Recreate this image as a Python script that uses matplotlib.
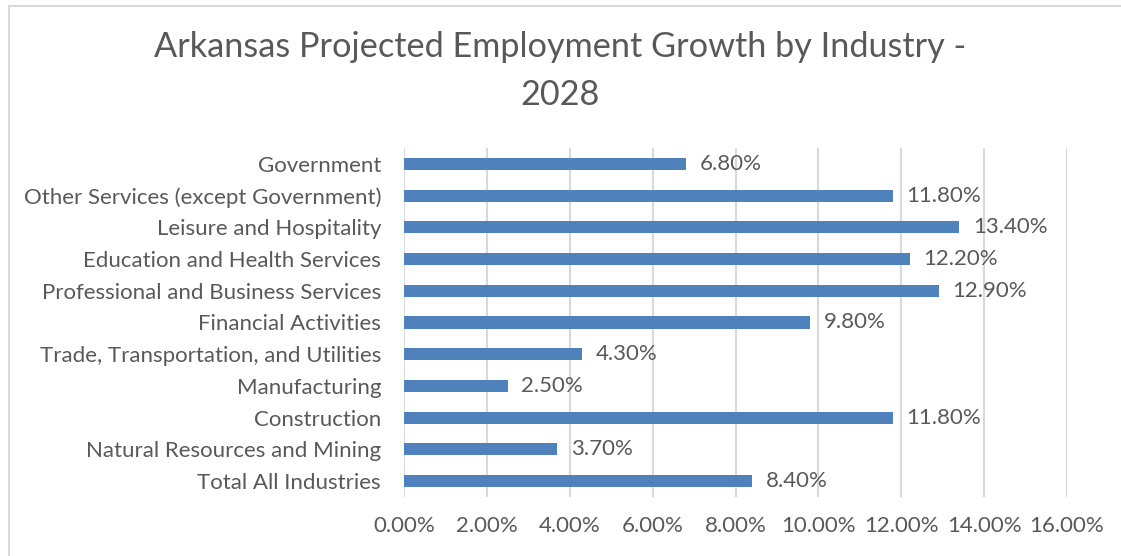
import matplotlib
matplotlib.use('Agg')
import matplotlib.pyplot as plt
from matplotlib.lines import Line2D
from matplotlib.ticker import FuncFormatter, MultipleLocator

# data (bottom to top, as drawn)
industries = ['Total All Industries', 'Natural Resources and Mining', 'Construction',
              'Manufacturing', 'Trade, Transportation, and Utilities',
              'Financial Activities', 'Professional and Business Services',
              'Education and Health Services', 'Leisure and Hospitality',
              'Other Services (except Government)', 'Government']
growth = [8.4, 3.7, 11.8, 2.5, 4.3, 9.8, 12.9, 12.2, 13.4, 11.8, 6.8]

plt.rcParams['font.family'] = ['Lato', 'DejaVu Sans']
text_col = '#595959'
bar_col = '#4F81BD'
fs = 16

W, H = 1121, 556
fig = plt.figure(figsize=(W / 100, H / 100), dpi=100)
ax = fig.add_axes([404 / W, 1 - 497 / H, (1067 - 404) / W, (497 - 148) / H])

y = range(len(industries))
ax.barh(y, growth, height=0.38, color=bar_col, zorder=3)
for yi, v in zip(y, growth):
    ax.text(v + 0.33, yi, f'{v:.2f}%', va='center', ha='left',
            fontsize=fs, color=text_col, zorder=4)

ax.set_xlim(0, 16)
ax.set_ylim(-0.5, len(industries) - 0.5)
ax.xaxis.set_major_locator(MultipleLocator(2))
ax.xaxis.set_major_formatter(FuncFormatter(lambda v, p: f'{v:.2f}%'))
ax.set_yticks(list(y))
ax.set_yticklabels(industries)
ax.tick_params(axis='both', length=0, labelsize=fs, labelcolor=text_col)
ax.tick_params(axis='x', pad=14)
ax.tick_params(axis='y', pad=16.5)
ax.grid(axis='x', color='#D9D9D9', linewidth=1.5, zorder=0)
for s in ax.spines.values():
    s.set_visible(False)

fig.text(0.5, 1 - 47 / H, 'Arkansas Projected Employment Growth by Industry -',
         ha='center', va='center', fontsize=24.7, color=text_col)
fig.text(0.5, 1 - 95 / H, '2028', ha='center', va='center', fontsize=24.7, color=text_col)

# chart border (only top and left visible in the crop)
fig.add_artist(Line2D([8.5 / W, 8.5 / W], [0, 1 - 5.5 / H], transform=fig.transFigure,
                      color='#D9D9D9', linewidth=1.5))
fig.add_artist(Line2D([8.5 / W, 1], [1 - 5.5 / H, 1 - 5.5 / H], transform=fig.transFigure,
                      color='#D9D9D9', linewidth=1.5))

fig.savefig('out.png', dpi=100)
